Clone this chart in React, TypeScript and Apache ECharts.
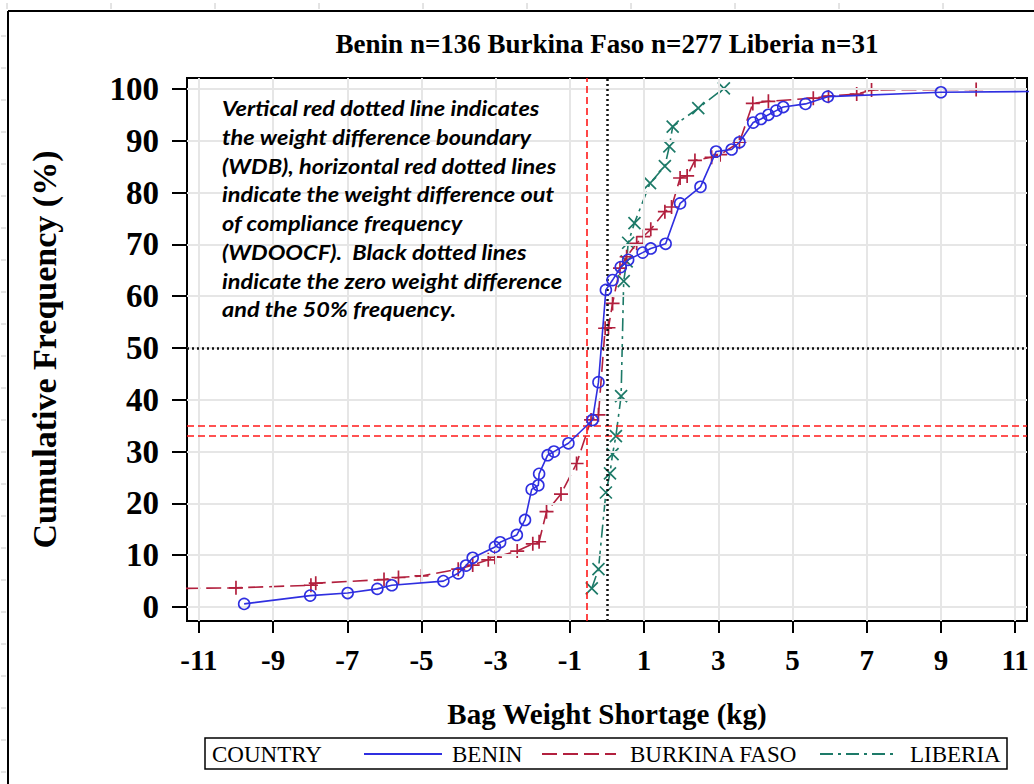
import React, { useEffect, useRef } from "react";
import * as echarts from "echarts";

const TITLE = "Benin n=136 Burkina Faso n=277 Liberia n=31";
const X_TICKS = [-11, -9, -7, -5, -3, -1, 1, 3, 5, 7, 9, 11];
const Y_TICKS = [0, 10, 20, 30, 40, 50, 60, 70, 80, 90, 100];

const benin: number[][] = [
  [-9.78, 0.6], [-8.0, 2.2], [-6.99, 2.7], [-6.19, 3.5], [-5.8, 4.2], [-4.41, 5.0],
  [-4.01, 6.5], [-3.8, 8.0], [-3.62, 9.5], [-3.02, 11.6], [-2.88, 12.5], [-2.43, 13.9],
  [-2.21, 16.8], [-2.03, 22.7], [-1.85, 23.5], [-1.83, 25.7], [-1.6, 29.3], [-1.43, 30.0],
  [-1.04, 31.6], [-0.39, 36.1], [-0.23, 43.4], [-0.03, 61.2], [0.15, 63.1], [0.37, 65.6],
  [0.57, 67.0], [0.96, 68.4], [1.18, 69.2], [1.58, 70.1], [1.97, 77.9], [2.52, 81.1],
  [2.94, 87.9], [3.36, 88.3], [3.57, 89.7], [3.94, 93.5], [4.15, 94.2], [4.35, 95.0],
  [4.56, 95.8], [4.75, 96.5], [5.35, 97.1], [5.95, 98.5], [9.0, 99.35], [13.0, 99.6],
];

const burkinaFaso: number[][] = [
  [-12.5, 3.5], [-10.0, 3.7], [-7.98, 4.2], [-7.85, 4.6], [-6.01, 5.3], [-5.62, 5.7],
  [-5.0, 6.0], [-4.01, 7.3], [-3.62, 8.1], [-3.2, 9.1], [-3.02, 9.6], [-2.42, 10.8],
  [-2.0, 12.2], [-1.83, 12.6], [-1.63, 18.4], [-1.24, 21.8], [-0.82, 27.7], [-0.43, 36.1],
  [-0.23, 37.1], [-0.05, 53.8], [0.04, 53.9], [0.15, 58.6], [0.35, 65.4], [0.53, 67.6],
  [0.8, 70.2], [0.98, 71.5], [1.18, 72.9], [1.56, 76.3], [1.74, 77.2], [1.97, 82.8],
  [2.16, 83.2], [2.37, 86.2], [2.82, 86.8], [3.05, 87.3], [3.57, 89.7], [3.93, 97.2],
  [4.35, 97.6], [5.56, 98.2], [5.97, 98.6], [6.73, 99.0], [7.13, 99.8], [9.95, 99.9],
];

const liberia: number[][] = [
  [-0.41, 3.6], [-0.23, 7.3], [-0.03, 22.1], [0.08, 25.8], [0.15, 29.5], [0.24, 33.0],
  [0.38, 40.7], [0.45, 62.9], [0.53, 66.7], [0.57, 70.3], [0.74, 74.1], [1.16, 81.8],
  [1.56, 85.1], [1.68, 88.9], [1.77, 92.7], [2.46, 96.3], [3.15, 100.1],
];

const WDB_X = -0.54;
const WDOOCF_Y = [33, 35];
const ZERO_X = 0;
const FREQ50_Y = 50;

const NOTE_LINES = [
  "Vertical red dotted line indicates",
  "the weight difference boundary",
  "(WDB), horizontal red dotted lines",
  "indicate the weight difference out",
  "of compliance frequency",
  "(WDOOCF).  Black dotted lines",
  "indicate the zero weight difference",
  "and the 50% frequency.",
];

const BLUE = "#2f2fe0";
const RED = "#b2203e";
const GREEN = "#1d7a68";
const SERIF = "'Liberation Serif', 'Times New Roman', serif";

const PLUS = "path://M5 0 L5 10 M0 5 L10 5";
const CROSS = "path://M0 0 L10 10 M10 0 L0 10";

export default function App() {
  const ref = useRef<HTMLDivElement>(null);
  useEffect(() => {
    if (!ref.current) return;
    const chart = echarts.init(ref.current, null, { renderer: "svg" });
    const redDash = { color: "#ff1a1a", width: 1.6, type: [7, 4] as any };
    const blackDot = { color: "#111", width: 2.5, type: [2, 3] as any };
    const gridStyle = { color: "#e6e6e6", width: 2, type: "solid" as any };

    const topTicks = [];
    for (let k = 0; k < 10; k++) {
      topTicks.push({ type: "line", shape: { x1: 7 + 104 * k, y1: 3, x2: 7 + 104 * k, y2: 9 }, style: { stroke: "#c8c8c8", lineWidth: 1 } });
    }
    const leftTicks = [];
    for (let k = 0; k < 24; k++) {
      leftTicks.push({ type: "line", shape: { x1: 1, y1: 36 + 32 * k, x2: 6, y2: 36 + 32 * k }, style: { stroke: "#c8c8c8", lineWidth: 1 } });
    }

    const gridLines = [
      ...X_TICKS.map((v) => ({ xAxis: v, lineStyle: gridStyle })),
      ...Y_TICKS.map((v) => ({ yAxis: v, lineStyle: gridStyle })),
    ];

    const legendY = 754;
    const option: any = {
      animation: false,
      backgroundColor: "#fff",
      grid: { left: 187, right: 7, top: 78, bottom: 163, show: true, borderColor: "#000", borderWidth: 2, backgroundColor: "transparent" },
      xAxis: {
        type: "value", min: -11.32, max: 11.32,
        name: "Bag Weight Shortage (kg)", nameLocation: "middle", nameGap: 78,
        nameTextStyle: { fontFamily: SERIF, fontWeight: "bold", fontSize: 29, color: "#000" },
        axisLine: { show: true, onZero: false, lineStyle: { color: "#000", width: 2 } },
        axisTick: { show: true, customValues: X_TICKS, length: 12, lineStyle: { color: "#000", width: 2 } },
        axisLabel: { customValues: X_TICKS, margin: 24, fontFamily: SERIF, fontWeight: "bold", fontSize: 29, color: "#000" },
        splitLine: { show: false },
      },
      yAxis: {
        type: "value", min: -2.7, max: 102.1,
        name: "Cumulative Frequency (%)", nameLocation: "middle", nameGap: 126,
        nameTextStyle: { fontFamily: SERIF, fontWeight: "bold", fontSize: 34, color: "#000" },
        axisLine: { show: true, onZero: false, lineStyle: { color: "#000", width: 2 } },
        axisTick: { show: true, customValues: Y_TICKS, length: 15, lineStyle: { color: "#000", width: 2 } },
        axisLabel: { customValues: Y_TICKS, margin: 28, fontFamily: SERIF, fontWeight: "bold", fontSize: 33, color: "#000" },
        splitLine: { show: false },
      },
      series: [
        {
          name: "grid", type: "line", data: [], z: 1, silent: true,
          markLine: { silent: true, symbol: ["none", "none"], label: { show: false }, animation: false, data: gridLines },
        },
        {
          name: "BENIN", type: "line", data: benin, clip: true,
          symbol: "circle", symbolSize: 11,
          itemStyle: { color: "transparent", borderColor: BLUE, borderWidth: 1.6 },
          lineStyle: { color: BLUE, width: 1.6, type: "solid" },
          z: 5,
          markLine: {
            silent: true, symbol: ["none", "none"], label: { show: false }, animation: false,
            data: [
              { xAxis: WDB_X, lineStyle: redDash },
              { yAxis: WDOOCF_Y[0], lineStyle: redDash },
              { yAxis: WDOOCF_Y[1], lineStyle: redDash },
              { xAxis: ZERO_X, lineStyle: blackDot },
              { yAxis: FREQ50_Y, lineStyle: blackDot },
            ],
          },
        },
        {
          name: "BURKINA FASO", type: "line", data: burkinaFaso, clip: true,
          symbol: PLUS, symbolSize: 14,
          itemStyle: { color: "none", borderColor: RED, borderWidth: 1.7 },
          lineStyle: { color: RED, width: 1.6, type: [15, 6] },
          z: 4,
        },
        {
          name: "LIBERIA", type: "line", data: liberia, clip: true,
          symbol: CROSS, symbolSize: 12,
          itemStyle: { color: "none", borderColor: GREEN, borderWidth: 1.7 },
          lineStyle: { color: GREEN, width: 1.6, type: [13, 5, 3, 5] },
          z: 3,
        },
      ],
      graphic: [
        { type: "line", shape: { x1: 8, y1: 11, x2: 1034, y2: 11 }, style: { stroke: "#000", lineWidth: 2 } },
        { type: "line", shape: { x1: 8, y1: 11, x2: 8, y2: 784 }, style: { stroke: "#000", lineWidth: 2 } },
        ...topTicks,
        ...leftTicks,
        {
          type: "text", x: 607, y: 44,
          style: { text: TITLE, fontFamily: SERIF, fontWeight: "bold", fontSize: 27, fill: "#000", align: "center", verticalAlign: "middle" },
        },
        {
          type: "text", x: 222, y: 94, z: 10, scaleX: 1.12,
          style: { text: NOTE_LINES.join("\n"), fontFamily: "Lato, 'Open Sans', sans-serif", fontWeight: "bold", fontStyle: "italic", fontSize: 21, lineHeight: 28.7, fill: "#000", align: "left", verticalAlign: "top" },
        },
        { type: "rect", shape: { x: 205, y: 738, width: 802, height: 31 }, style: { fill: "#fff", stroke: "#000", lineWidth: 1.5 } },
        { type: "text", x: 212, y: legendY, style: { text: "COUNTRY", fontFamily: SERIF, fontSize: 23, fill: "#000", verticalAlign: "middle" } },
        { type: "line", shape: { x1: 364, y1: legendY, x2: 442, y2: legendY }, style: { stroke: BLUE, lineWidth: 2 } },
        { type: "text", x: 452, y: legendY, style: { text: "BENIN", fontFamily: SERIF, fontSize: 23, fill: "#000", verticalAlign: "middle" } },
        { type: "line", shape: { x1: 542, y1: legendY, x2: 616, y2: legendY }, style: { stroke: RED, lineWidth: 2, lineDash: [15, 6] } },
        { type: "text", x: 630, y: legendY, style: { text: "BURKINA FASO", fontFamily: SERIF, fontSize: 23, fill: "#000", verticalAlign: "middle" } },
        { type: "line", shape: { x1: 820, y1: legendY, x2: 894, y2: legendY }, style: { stroke: GREEN, lineWidth: 2, lineDash: [13, 5, 3, 5] } },
        { type: "text", x: 910, y: legendY, style: { text: "LIBERIA", fontFamily: SERIF, fontSize: 23, fill: "#000", verticalAlign: "middle" } },
      ],
    };
    chart.setOption(option);
    return () => chart.dispose();
  }, []);
  return <div ref={ref} style={{ width: 1034, height: 784, position: "absolute", left: 0, top: 0 }} />;
}
